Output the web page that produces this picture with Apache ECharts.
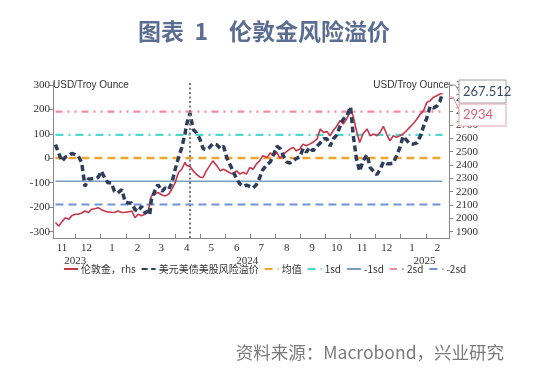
<!DOCTYPE html>
<html><head><meta charset="utf-8">
<script src="https://cdn.jsdelivr.net/npm/echarts@6/dist/echarts.min.js"></script>
<style>html,body{margin:0;padding:0;background:#fff}#c{width:550px;height:372px}</style>
</head><body><div id="c"></div>
<script>
// ---- data ----
const dates = [
'2023-11-07','2023-11-11','2023-11-15','2023-11-19','2023-11-23','2023-11-27','2023-12-01','2023-12-05','2023-12-09','2023-12-13',
'2023-12-17','2023-12-21','2023-12-25','2023-12-29','2024-01-02','2024-01-06','2024-01-10','2024-01-14','2024-01-18','2024-01-22',
'2024-01-27','2024-01-31','2024-02-04','2024-02-08','2024-02-12','2024-02-16','2024-02-20','2024-02-24','2024-02-28','2024-03-01',
'2024-03-03','2024-03-07','2024-03-11','2024-03-16','2024-03-20','2024-03-24','2024-03-28','2024-04-01','2024-04-05','2024-04-09',
'2024-04-13','2024-04-15','2024-04-19','2024-04-23','2024-04-27','2024-05-01','2024-05-05','2024-05-09','2024-05-13','2024-05-17',
'2024-05-22','2024-05-26','2024-05-30','2024-06-03','2024-06-07','2024-06-11','2024-06-15','2024-06-19','2024-06-23','2024-06-27',
'2024-07-01','2024-07-05','2024-07-09','2024-07-13','2024-07-17','2024-07-22','2024-07-26','2024-07-30','2024-08-03','2024-08-07',
'2024-08-11','2024-08-15','2024-08-19','2024-08-23','2024-08-27','2024-08-31','2024-09-04','2024-09-08','2024-09-12','2024-09-16',
'2024-09-21','2024-09-25','2024-09-29','2024-10-03','2024-10-07','2024-10-11','2024-10-15','2024-10-19','2024-10-23','2024-10-27',
'2024-11-01','2024-11-04','2024-11-08','2024-11-12','2024-11-16','2024-11-21','2024-11-25','2024-11-29','2024-12-03','2024-12-07',
'2024-12-11','2024-12-15','2024-12-19','2024-12-23','2024-12-27','2024-12-31','2025-01-04','2025-01-08','2025-01-12','2025-01-16',
'2025-01-21','2025-01-25','2025-01-29','2025-02-02','2025-02-06','2025-02-10','2025-02-14','2025-02-18','2025-02-21'];
const riskPremium = [
56,20,-12,5,10,20,15,8,-18,-115,
-85,-84,-82,-78,-53,-80,-100,-100,-135,-142,
-128,-178,-183,-183,-210,-217,-196,-223,-217,-230,
-169,-135,-108,-135,-121,-128,-100,-46,2,43,
100,138,185,118,104,80,40,35,45,60,
55,40,49,2,-26,-55,-85,-105,-115,-110,
-115,-121,-108,-80,-46,-26,-15,15,49,40,
10,-15,-20,-10,0,5,40,25,45,30,
50,63,80,80,50,80,95,130,160,170,
210,100,0,-53,-12,15,-39,-53,-67,-46,
-15,-22,-22,-20,10,43,90,75,60,58,
63,90,131,165,213,206,213,233,267.512];
const goldPrice = [
1968,1942,1975,2005,1992,2020,2030,2030,2040,2055,
2043,2068,2072,2080,2065,2055,2048,2045,2043,2055,
2043,2045,2048,2055,2005,2030,2020,2030,2050,2055,
2168,2180,2193,2175,2168,2180,2218,2268,2343,2368,
2419,2395,2390,2356,2330,2310,2306,2356,2393,2431,
2393,2356,2368,2355,2340,2331,2356,2331,2345,2331,
2381,2368,2406,2431,2470,2455,2490,2468,2494,2450,
2481,2500,2519,2531,2506,2520,2556,2544,2556,2570,
2594,2669,2644,2650,2619,2660,2690,2732,2707,2744,
2805,2769,2660,2569,2632,2670,2619,2632,2619,2644,
2690,2630,2581,2619,2607,2619,2632,2656,2682,2707,
2744,2782,2807,2869,2882,2907,2919,2932,2934];
const meanValue = 1;
const plus1sd = 96;
const minus1sd = -94;
const plus2sd = 191;
const minus2sd = -189;
const eventDate = '2024-04-19';
const leftTicks = [-300,-200,-100,0,100,200,300];
const rightTicks = [1900,2000,2100,2200,2300,2400,2500,2600,2700,2800,2900,3000];
const monthLabelDates = ['2023-11-15','2023-12-15','2024-01-15','2024-02-15','2024-03-15','2024-04-15','2024-05-15','2024-06-15',
'2024-07-15','2024-08-15','2024-09-15','2024-10-15','2024-11-15','2024-12-15','2025-01-15','2025-02-15'];
const monthTickDates = ['2023-12-01','2024-01-01','2024-02-01','2024-03-01','2024-04-01','2024-05-01','2024-06-01','2024-07-01',
'2024-08-01','2024-09-01','2024-10-01','2024-11-01','2024-12-01','2025-01-01','2025-02-01'];
const yearLabelDates = ['2023-12-01','2024-06-28','2025-01-30'];
const names = ['伦敦金，rhs','美元美债美股风险溢价','均值','1sd','-1sd','2sd','-2sd'];

// ---- helpers ----
const t = s => { const p = s.split('-').map(Number); return new Date(p[0], p[1]-1, p[2]).getTime(); };
const xMin = t('2023-11-04'), xMax = t('2025-03-01');
const leftMin = -326, leftMax = 312;
const toRight = v => 1900 + (v + 300) * 1100 / 600;
const first = t(dates[0]), last = t(dates[dates.length-1]);
const flat = v => [[first, v], [last, v]];
const serif = '"Liberation Serif", "DejaVu Serif", serif';
const cjk = '"Noto Sans CJK SC", "Noto Sans", sans-serif';
const sans = '"Liberation Sans", Arial, sans-serif';

const chart = echarts.init(document.getElementById('c'), null, {renderer:'canvas'});
const lineBase = {type:'line', symbol:'none', showSymbol:false, silent:true, animation:false};
chart.setOption({
  animation:false,
  title:{text:'图表  1    伦敦金风险溢价', left:133, top:15,
    textStyle:{fontSize:23, fontWeight:'bold', color:'#5b6d92', fontFamily:cjk}},
  grid:{left:53, right:101, top:82, bottom:134, containLabel:false},
  legend:{left:63, top:264, itemWidth:14, itemHeight:8, itemGap:5, padding:0,
    itemStyle:{color:'rgba(0,0,0,0)', borderWidth:0, opacity:0},
    textStyle:{fontSize:10, color:'#333', fontFamily:cjk, padding:[0,0,0,-2]}, data:names},
  xAxis:[{
    type:'value', min:xMin, max:xMax, position:'bottom',
    axisLine:{show:true, onZero:false, lineStyle:{color:'#888', width:1}},
    axisTick:{show:true, customValues:monthTickDates.map(t), length:4, inside:true, lineStyle:{color:'#888'}},
    axisLabel:{customValues:monthLabelDates.map(t), formatter:v=>String(new Date(v).getMonth()+1),
      fontFamily:serif, fontSize:11, color:'#333', margin:5, hideOverlap:false},
    splitLine:{show:false}
  },{
    type:'value', min:xMin, max:xMax, position:'bottom', offset:13,
    axisLine:{show:false, onZero:false}, axisTick:{show:false}, splitLine:{show:false},
    axisLabel:{customValues:yearLabelDates.map(t), formatter:v=>String(new Date(v).getFullYear()),
      fontFamily:serif, fontSize:11, color:'#333', margin:5}
  }],
  yAxis:[{
    type:'value', min:leftMin, max:leftMax, position:'left',
    name:'USD/Troy Ounce', nameLocation:'end', nameGap:-3, nameMoveOverlap:false,
    nameTextStyle:{align:'left', verticalAlign:'middle', fontSize:10, color:'#333', fontFamily:sans},
    axisLine:{show:true, onZero:false, lineStyle:{color:'#888'}},
    axisTick:{show:true, customValues:leftTicks, length:4, lineStyle:{color:'#888'}},
    axisLabel:{customValues:leftTicks, formatter:v=>String(v), fontFamily:serif, fontSize:11, color:'#333', margin:3},
    splitLine:{show:false}
  },{
    type:'value', min:toRight(leftMin), max:toRight(leftMax), position:'right',
    name:'USD/Troy Ounce', nameLocation:'end', nameGap:-3, nameMoveOverlap:false,
    nameTextStyle:{align:'right', verticalAlign:'middle', fontSize:10, color:'#333', fontFamily:sans},
    axisLine:{show:true, onZero:false, lineStyle:{color:'#888'}},
    axisTick:{show:true, customValues:rightTicks, length:4, lineStyle:{color:'#888'}},
    axisLabel:{customValues:rightTicks, formatter:v=>String(v), fontFamily:serif, fontSize:11, color:'#333', margin:7},
    splitLine:{show:false}
  }],
  series:[
    Object.assign({}, lineBase, {name:names[0], yAxisIndex:1, z:3, color:'#c8364b',
      lineStyle:{color:'#c8364b', width:1.6},
      data:dates.map((d,i)=>[t(d), goldPrice[i]])}),
    Object.assign({}, lineBase, {name:names[1], yAxisIndex:0, z:4, color:'#2e3d5c',
      lineStyle:{color:'#2e3d5c', width:3.5, type:[6,3.5]},
      data:dates.map((d,i)=>[t(d), riskPremium[i]]),
      markLine:{symbol:'none', silent:true, animation:false, label:{show:false},
        lineStyle:{color:'#7a7a7a', type:[2,2.5], width:2},
        data:[{xAxis:t(eventDate)}]}}),
    Object.assign({}, lineBase, {name:names[2], yAxisIndex:0, z:2, color:'#f2a52e',
      lineStyle:{color:'#f2a52e', width:2.6, type:[8,5]}, data:flat(meanValue)}),
    Object.assign({}, lineBase, {name:names[3], yAxisIndex:0, z:2, color:'#4fd8cc',
      lineStyle:{color:'#4fd8cc', width:2.2, type:[8,5,2,5]}, data:flat(plus1sd)}),
    Object.assign({}, lineBase, {name:names[4], yAxisIndex:0, z:2, color:'#7a9fc3',
      lineStyle:{color:'#7a9fc3', width:1.5}, data:flat(minus1sd)}),
    Object.assign({}, lineBase, {name:names[5], yAxisIndex:0, z:2, color:'#f08aa2',
      lineStyle:{color:'#f08aa2', width:2.2, type:[7,5,2,5,2,5]}, data:flat(plus2sd)}),
    Object.assign({}, lineBase, {name:names[6], yAxisIndex:0, z:2, color:'#6e94d8',
      lineStyle:{color:'#6e94d8', width:2.2, type:[8,5]}, data:flat(minus2sd)})
  ],
  graphic:[
    {type:'polyline', z:100, shape:{points:[[449,85],[455,85],[459,91]]}, style:{stroke:'#999', lineWidth:1, fill:null}},
    {type:'rect', z:100, shape:{x:459, y:80, width:47, height:23}, style:{fill:'#fff', stroke:'#a0a0a0', lineWidth:1}},
    {type:'text', z:101, style:{x:463, y:92, text:riskPremium[riskPremium.length-1].toFixed(3), fill:'#3d4a66',
      fontSize:13, fontFamily:'Lato, "Open Sans", sans-serif', verticalAlign:'middle', align:'left'}},
    {type:'polyline', z:100, shape:{points:[[449,97],[453,97],[459,110]]}, style:{stroke:'#e58fa3', lineWidth:1, fill:null}},
    {type:'rect', z:100, shape:{x:459, y:104, width:47, height:22}, style:{fill:'#fff', stroke:'#e8a2b2', lineWidth:1}},
    {type:'text', z:101, style:{x:463, y:115, text:String(goldPrice[goldPrice.length-1]), fill:'#d9607a',
      fontSize:13, fontFamily:'Lato, "Open Sans", sans-serif', verticalAlign:'middle', align:'left'}},
    {type:'text', z:101, style:{x:504, y:352, text:'资料来源：Macrobond，兴业研究', fill:'#7a7a7a',
      fontSize:17.5, fontFamily:cjk, verticalAlign:'middle', align:'right'}}
  ]
});
</script>
</body></html>
